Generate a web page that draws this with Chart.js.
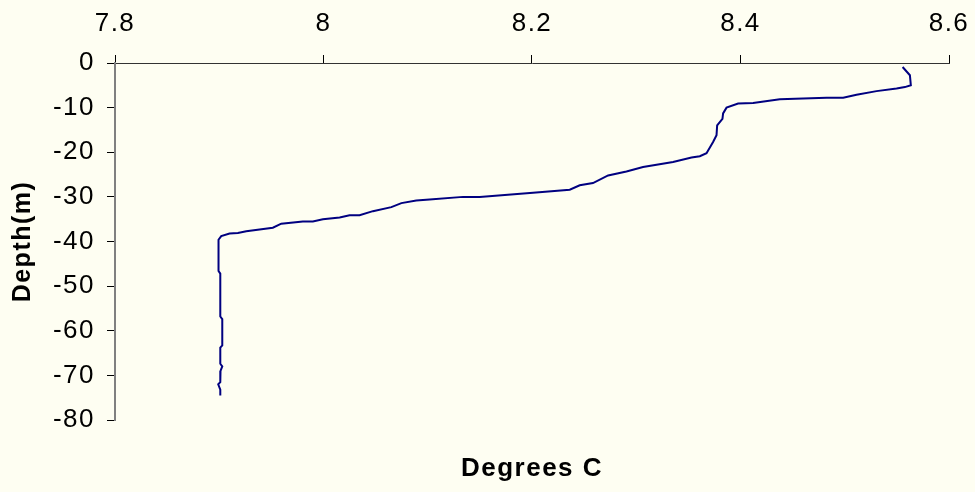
<!DOCTYPE html>
<html>
<head>
<meta charset="utf-8">
<script src="https://cdn.jsdelivr.net/npm/chart.js@4/dist/chart.umd.min.js"></script>
<style>
  html, body { margin: 0; padding: 0; background: #FEFEF2; }
  canvas { display: block; background: #FEFEF2; }
</style>
</head>
<body>
<canvas id="c" width="975" height="492"></canvas>
<script>
// Temperature profile (Degrees C) vs depth (m)
const temperatures = [
  8.5555, 8.5625, 8.5634, 8.5577, 8.5497, 8.5305, 8.5113, 8.4985, 8.4825, 8.4377,
  8.4121, 8.3977, 8.3866, 8.3833, 8.3827, 8.3776, 8.3770, 8.3737, 8.3674, 8.3610,
  8.3530, 8.3353, 8.3065, 8.2906, 8.2730, 8.2585, 8.2458, 8.2362, 8.2010, 8.1498,
  8.1338, 8.1018, 8.0890, 8.0747, 8.0651, 8.0474, 8.0346, 8.0250, 8.0155, 7.9994,
  7.9898, 7.9802, 7.9595, 7.9514, 7.9387, 7.9259, 7.9179, 7.9099, 7.9019, 7.8993,
  7.8993, 7.9010, 7.9010, 7.9029, 7.9029, 7.9010, 7.9010, 7.9029, 7.9012, 7.9010,
  7.8990, 7.9010, 7.9010
];
const depths = [
  -0.9, -2.75, -5.0, -5.4, -5.7, -6.3, -7.1, -7.76, -7.76, -8.13,
  -8.96, -9.1, -10.0, -11.3, -12.5, -14.0, -16.2, -17.7, -20.2, -20.9,
  -21.2, -22.2, -23.3, -24.3, -25.2, -26.9, -27.4, -28.4, -29.1, -30.0,
  -30.0, -30.6, -30.8, -31.4, -32.3, -33.2, -34.1, -34.1, -34.6, -35.0,
  -35.5, -35.5, -36.0, -36.9, -37.3, -37.7, -38.1, -38.2, -38.8, -39.6,
  -46.6, -47.2, -56.8, -57.4, -63.3, -63.8, -67.4, -68.0, -69.0, -71.5,
  -72.0, -73.2, -74.5
];
const xTickValues = [7.8, 8, 8.2, 8.4, 8.6];
const yTickValues = [0, -10, -20, -30, -40, -50, -60, -70, -80];
const xTitle = 'Degrees C';
const yTitle = 'Depth(m)';

const points = temperatures.map((t, i) => ({ x: t, y: depths[i] }));

const spacingPlugin = {
  id: 'spacing',
  beforeDraw(chart) { chart.ctx.letterSpacing = '1.5px'; },
  afterDatasetsDraw(chart) { chart.ctx.letterSpacing = '2.5px'; },
  afterDraw(chart) { chart.ctx.letterSpacing = '0px'; }
};

const FONT = "'Liberation Sans', Arial, sans-serif";

new Chart(document.getElementById('c'), {
  type: 'scatter',
  data: {
    datasets: [{
      data: points,
      showLine: true,
      borderColor: '#000080',
      borderWidth: 2,
      pointRadius: 0,
      pointHoverRadius: 0,
      tension: 0,
      fill: false
    }]
  },
  plugins: [spacingPlugin],
  options: {
    responsive: false,
    animation: false,
    devicePixelRatio: 1,
    layout: { padding: { left: 0, right: 26, top: 0, bottom: 0 } },
    plugins: { legend: { display: false }, tooltip: { enabled: false } },
    scales: {
      x: {
        type: 'linear',
        position: 'top',
        min: Math.min(...xTickValues),
        max: Math.max(...xTickValues),
        afterBuildTicks: s => { s.ticks = xTickValues.map(v => ({ value: v })); },
        afterFit: s => { s.height = 63; s.paddingLeft = 0; s.paddingRight = 0; },
        grid: { display: true, drawOnChartArea: false, drawTicks: true, tickLength: 8, tickColor: '#000', tickWidth: 1 },
        border: { display: true, color: '#333', width: 1 },
        ticks: {
          color: '#000',
          padding: 16,
          maxRotation: 0,
          font: { family: FONT, size: 26 },
          callback: v => String(Number(v.toFixed(1)))
        }
      },
      x2: {
        type: 'linear',
        position: 'bottom',
        axis: 'x',
        z: 1,
        min: Math.min(...xTickValues),
        max: Math.max(...xTickValues),
        afterFit: s => { s.height = 72; s.paddingLeft = 0; s.paddingRight = 0; },
        grid: { display: false },
        border: { display: false },
        ticks: { display: false },
        title: {
          display: true,
          text: xTitle,
          color: '#000',
          font: { family: FONT, size: 26, weight: 'bold', lineHeight: 1 },
          padding: { top: 0, bottom: 10 }
        }
      },
      y: {
        type: 'linear',
        position: 'left',
        min: Math.min(...yTickValues),
        max: Math.max(...yTickValues),
        afterBuildTicks: s => { s.ticks = yTickValues.slice().reverse().map(v => ({ value: v })); },
        afterFit: s => { s.width = 115; s.paddingTop = 0; s.paddingBottom = 0; },
        grid: { display: true, drawOnChartArea: false, drawTicks: true, tickLength: 8, tickColor: '#000', tickWidth: 1 },
        border: { display: true, color: '#808080', width: 2 },
        ticks: {
          color: '#000',
          padding: 12,
          font: { family: FONT, size: 26 },
          callback: v => String(v)
        },
        title: {
          display: true,
          text: yTitle,
          color: '#000',
          font: { family: FONT, size: 25, weight: 'bold', lineHeight: 1 },
          padding: { top: 11, bottom: 0 }
        }
      }
    }
  }
});
</script>
</body>
</html>
